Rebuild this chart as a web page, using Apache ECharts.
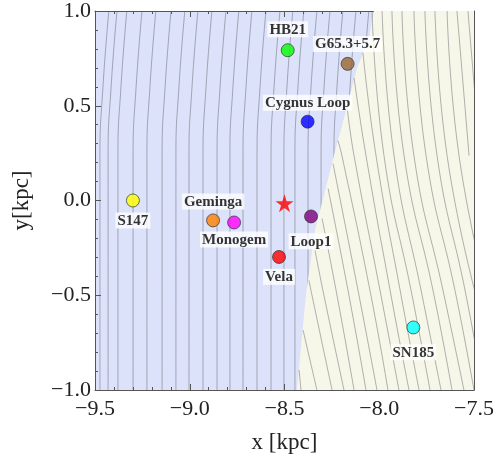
<!DOCTYPE html>
<html><head><meta charset="utf-8">
<script src="https://cdn.jsdelivr.net/npm/echarts@6/dist/echarts.min.js"></script>
<style>html,body{margin:0;padding:0;background:#fff}#c{width:497px;height:464px}</style>
</head><body><div id="c"></div>
<script>
// ---- data (kpc) ----
const names = ['S147','Geminga','Monogem','Loop1','Vela','HB21','G65.3+5.7','Cygnus Loop','SN185'];
const xs    = [-9.30, -8.877, -8.766, -8.360, -8.529, -8.483, -8.167, -8.378, -7.820];
const ys    = [0.00, -0.105, -0.116, -0.084, -0.298, 0.793, 0.721, 0.416, -0.670];
const colors = ['#ffff00','#ff8000','#ff00ff','#800080','#ff0000','#00ff00','#99662f','#0000ff','#00ffff'];
const labelPos = ['bottom','top','bottom','bottom','bottom','top','top','top','bottom'];
const labelGap = [5, 4, 2, 10, 5, 6, 5, 4, 10];
const sunX = [-8.50], sunY = [-0.015];
const xTicks = [-9.5, -9.0, -8.5, -8.0, -7.5];
const yTicks = [-1.0, -0.5, 0.0, 0.5, 1.0];
// boundary between the two shaded regions
const boundX = [-8.028, -8.054, -8.117, -8.191, -8.239, -8.339, -8.387, -8.434];
const boundY = [1.0, 0.853, 0.700, 0.416, 0.237, -0.158, -0.5, -1.0];
// contours of the left (blue) region: x at the y levels below
const blueLevels = [1.0, 0.6, 0.237, -0.5, -1.0];
const blueContours = [
 [-9.427,-9.458,-9.474,-9.474,-9.474],
 [-9.384,-9.415,-9.431,-9.431,-9.431],
 [-9.332,-9.363,-9.379,-9.379,-9.379],
 [-9.252,-9.283,-9.299,-9.299,-9.299],
 [-9.179,-9.210,-9.226,-9.226,-9.226],
 [-9.099,-9.130,-9.146,-9.146,-9.146],
 [-9.026,-9.057,-9.073,-9.073,-9.073],
 [-8.957,-8.988,-9.004,-9.004,-9.004],
 [-8.883,-8.914,-8.930,-8.930,-8.930],
 [-8.809,-8.840,-8.856,-8.856,-8.856],
 [-8.741,-8.772,-8.788,-8.788,-8.788],
 [-8.672,-8.703,-8.719,-8.719,-8.719],
 [-8.598,-8.629,-8.645,-8.645,-8.645],
 [-8.524,-8.555,-8.571,-8.571,-8.571],
 [-8.456,-8.487,-8.503,-8.503,-8.503],
 [-8.398,-8.429,-8.445,-8.445,-8.445],
 [-8.329,-8.360,-8.376,-8.376,-8.376],
 [-8.260,-8.291,-8.307,-8.307,-8.307],
 [-8.192,-8.223,-8.239,-8.239,-8.239],
 [-8.123,-8.154,-8.170,-8.170,-8.170],
 [-8.055,-8.086,-8.102,-8.102,-8.102],
 [-7.986,-8.017,-8.033,-8.033,-8.033]
];
// contours of the right (beige) region: [x, y] points
const beigeContours = [
 [[-8.423,-0.895],[-8.413,-1]],
 [[-8.402,-0.684],[-8.329,-1]],
 [[-8.371,-0.421],[-8.355,-0.5],[-8.249,-1]],
 [[-8.339,-0.263],[-8.292,-0.5],[-8.186,-1]],
 [[-8.302,-0.095],[-8.223,-0.5],[-8.133,-1]],
 [[-8.270,0.063],[-8.160,-0.5],[-8.070,-1]],
 [[-8.244,0.195],[-8.107,-0.5],[-8.012,-1]],
 [[-8.218,0.316],[-8.197,0.237],[-8.044,-0.5],[-7.954,-1]],
 [[-8.170,0.495],[-8.133,0.237],[-7.991,-0.5],[-7.896,-1]],
 [[-8.133,0.647],[-8.070,0.237],[-7.938,-0.5],[-7.843,-1]],
 [[-8.086,0.779],[-8.017,0.237],[-7.885,-0.5],[-7.790,-1]],
 [[-8.038,1],[-7.975,0.237],[-7.827,-0.5],[-7.732,-1]],
 [[-7.985,1],[-7.922,0.237],[-7.774,-0.5],[-7.674,-1]],
 [[-7.933,1],[-7.869,0.237],[-7.711,-0.5],[-7.616,-1]],
 [[-7.880,1],[-7.817,0.237],[-7.658,-0.5],[-7.553,-1]],
 [[-7.817,1],[-7.753,0.237],[-7.595,-0.5],[-7.500,-1]],
 [[-7.759,1],[-7.695,0.237],[-7.542,-0.5],[-7.45,-1]],
 [[-7.706,1],[-7.642,0.237],[-7.49,-0.5]],
 [[-7.642,1],[-7.579,0.237],[-7.43,-0.5]],
 [[-7.590,1],[-7.526,0.237]],
 [[-7.532,1],[-7.468,0.237]]
];

// ---- styles ----
const BLUE = '#dce2f9', BEIGE = '#f7f7e9', LINE = 'rgba(95,95,105,0.6)', AX = '#555';
const FONT = '"Liberation Serif","Times New Roman",serif';
const fmt = v => (Math.abs(v) < 1e-9 ? '0.0' : v.toFixed(1)).replace('-', '\u2212');

const series = [];
blueContours.forEach(c => series.push({
  type:'line', xAxisIndex:0, yAxisIndex:0, silent:true, showSymbol:false, smooth:0.5, z:1,
  lineStyle:{color:LINE, width:0.8}, data:c.map((x,i)=>[x, blueLevels[i]])
}));
series.push({
  type:'custom', xAxisIndex:0, yAxisIndex:0, silent:true, z:2, clip:true,
  data:[[0,0]],
  renderItem:(params, api) => {
    const pts = boundX.map((x,i)=>api.coord([x, boundY[i]]));
    pts.push(api.coord([xTicks[xTicks.length-1], yTicks[0]]));
    pts.push(api.coord([xTicks[xTicks.length-1], yTicks[yTicks.length-1]]));
    return {type:'polygon', shape:{points:pts, smooth:0}, style:{fill:BEIGE}};
  }
});
beigeContours.forEach(c => series.push({
  type:'line', xAxisIndex:0, yAxisIndex:0, silent:true, showSymbol:false, smooth:0.5, z:3,
  lineStyle:{color:LINE, width:0.8}, data:c
}));
series.push({
  type:'scatter', xAxisIndex:0, yAxisIndex:0, z:5, symbolSize:13,
  data: names.map((n,i)=>({value:[xs[i], ys[i]], name:n,
    itemStyle:{color:colors[i], borderColor:'#222', borderWidth:0.8},
    label:{show:true, position:labelPos[i], distance:labelGap[i], formatter:n,
      fontFamily:FONT, fontWeight:'bold', fontSize:15, color:'#000',
      backgroundColor:'#fff', padding:[1,2,0,2]}}))
});
series.push({
  type:'scatter', xAxisIndex:0, yAxisIndex:0, z:6, symbolSize:18,
  symbol:'path://M50,0 L61.2,34.5 L97.6,34.5 L68.2,55.9 L79.4,90.5 L50,69.1 L20.6,90.5 L31.8,55.9 L2.4,34.5 L38.8,34.5 Z',
  itemStyle:{color:'#ff0000'}, data: sunX.map((x,i)=>[x, sunY[i]])
});

const xBase = {type:'value', min:xTicks[0], max:xTicks[xTicks.length-1], interval:0.5,
  splitLine:{show:false}, axisLine:{show:true, onZero:false, lineStyle:{color:AX, width:1}},
  axisTick:{show:true, inside:true, length:6, lineStyle:{color:AX}},
  minorTick:{show:true, splitNumber:5, length:3, lineStyle:{color:AX}}};
const yBase = {type:'value', min:yTicks[0], max:yTicks[yTicks.length-1], interval:0.5,
  splitLine:{show:false}, axisLine:{show:true, onZero:false, lineStyle:{color:AX, width:1}},
  axisTick:{show:true, inside:true, length:6, lineStyle:{color:AX}},
  minorTick:{show:true, splitNumber:5, length:3, lineStyle:{color:AX}}};

const chart = echarts.init(document.getElementById('c'), null, {renderer:'canvas'});
chart.setOption({
  animation:false,
  backgroundColor:'#fff',
  grid:{left:95, right:23, top:10, bottom:74, show:true, backgroundColor:BLUE, borderWidth:0},
  xAxis:[
    Object.assign({}, xBase, {position:'bottom', name:'x [kpc]', nameLocation:'middle', nameGap:41,
      nameTextStyle:{fontFamily:FONT, fontSize:23, color:'#222'},
      axisLabel:{show:true, formatter:fmt, margin:8, fontFamily:FONT, fontSize:22, color:'#222'}}),
    Object.assign({}, xBase, {position:'top', axisLabel:{show:false}})
  ],
  yAxis:[
    Object.assign({}, yBase, {position:'left', name:'y[kpc]', nameLocation:'middle', nameGap:62,
      nameTextStyle:{fontFamily:FONT, fontSize:23, color:'#222'},
      axisLabel:{show:true, formatter:fmt, margin:4, fontFamily:FONT, fontSize:22, color:'#222'}}),
    Object.assign({}, yBase, {position:'right', axisLabel:{show:false}})
  ],
  series
});
</script></body></html>
